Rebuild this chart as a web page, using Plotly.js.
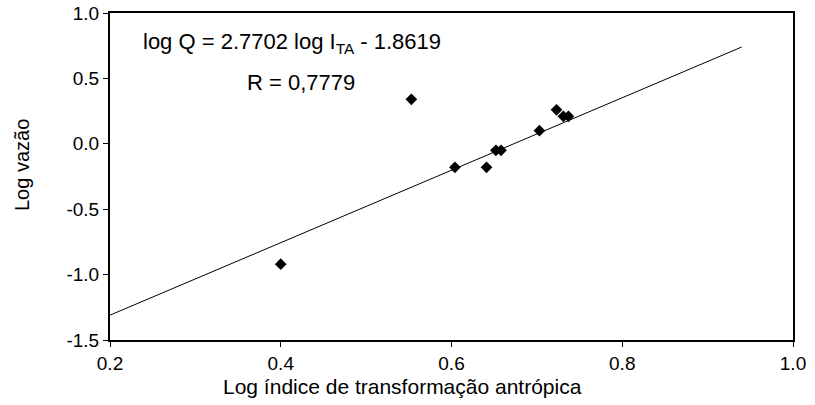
<!DOCTYPE html>
<html>
<head>
<meta charset="utf-8">
<script src="https://cdn.plot.ly/plotly-3.0.1.min.js"></script>
<style>html,body{margin:0;padding:0;background:#fff;}#chart{width:815px;height:405px;}</style>
</head>
<body>
<div id="chart"></div>
<script>
// Observed points
var pointsX = [0.400, 0.553, 0.604, 0.641, 0.652, 0.658, 0.703, 0.723, 0.731, 0.737];
var pointsY = [-0.92, 0.34, -0.18, -0.18, -0.05, -0.05, 0.10, 0.26, 0.21, 0.21];
// Regression line endpoints
var fitX = [0.20, 0.94];
var fitY = [-1.31, 0.74];
var xTicks = [0.2, 0.4, 0.6, 0.8, 1.0];
var xTickLabels = ["0.2", "0.4", "0.6", "0.8", "1.0"];
var yTicks = [-1.5, -1.0, -0.5, 0.0, 0.5, 1.0];
var yTickLabels = ["-1.5", "-1.0", "-0.5", "0.0", "0.5", "1.0"];
var equationText = "log Q = 2.7702 log I<sub>TA</sub> - 1.8619";
var rText = "R = 0,7779";
var xTitle = "Log índice de transformação antrópica";
var yTitle = "Log vazão";

var font = "Liberation Sans, Arial, sans-serif";

var traces = [
  {x: fitX, y: fitY, type: "scatter", mode: "lines",
   line: {color: "#000", width: 1}, hoverinfo: "skip"},
  {x: pointsX, y: pointsY, type: "scatter", mode: "markers",
   marker: {symbol: "diamond", size: 9, color: "#000"}}
];

var layout = {
  width: 815, height: 405,
  margin: {l: 110, r: 22, t: 13, b: 65},
  paper_bgcolor: "#fff", plot_bgcolor: "#fff",
  showlegend: false,
  font: {family: font, color: "#000", size: 19},
  xaxis: {
    range: [0.2, 1.0], tickvals: xTicks, ticktext: xTickLabels,
    showgrid: false, zeroline: false,
    showline: true, linecolor: "#000", linewidth: 2, mirror: true,
    ticks: "outside", ticklen: 5, tickwidth: 1, tickcolor: "#000",
    tickfont: {size: 19, family: font}
  },
  yaxis: {
    range: [-1.5, 1.0], tickvals: yTicks, ticktext: yTickLabels,
    showgrid: false, zeroline: false,
    showline: true, linecolor: "#000", linewidth: 2, mirror: true,
    ticks: "outside", ticklen: 5, tickwidth: 1, tickcolor: "#000",
    tickfont: {size: 19, family: font}
  },
  annotations: [
    {text: equationText, xref: "paper", yref: "paper", x: (141 - 110) / 683, y: (340 - 43) / 327,
     xanchor: "left", yanchor: "middle", showarrow: false, font: {size: 22, family: font}},
    {text: rText, xref: "paper", yref: "paper", x: (245 - 110) / 683, y: (340 - 83) / 327,
     xanchor: "left", yanchor: "middle", showarrow: false, font: {size: 22, family: font}},
    {text: xTitle, xref: "paper", yref: "paper", x: (402 - 110) / 683, y: (340 - 386) / 327,
     xanchor: "center", yanchor: "middle", showarrow: false, font: {size: 21, family: font}},
    {text: yTitle, xref: "paper", yref: "paper", x: (22 - 110) / 683, y: (340 - 165) / 327,
     xanchor: "center", yanchor: "middle", textangle: -90, showarrow: false, font: {size: 20, family: font}}
  ]
};

Plotly.newPlot("chart", traces, layout, {staticPlot: true, displayModeBar: false});
</script>
</body>
</html>
